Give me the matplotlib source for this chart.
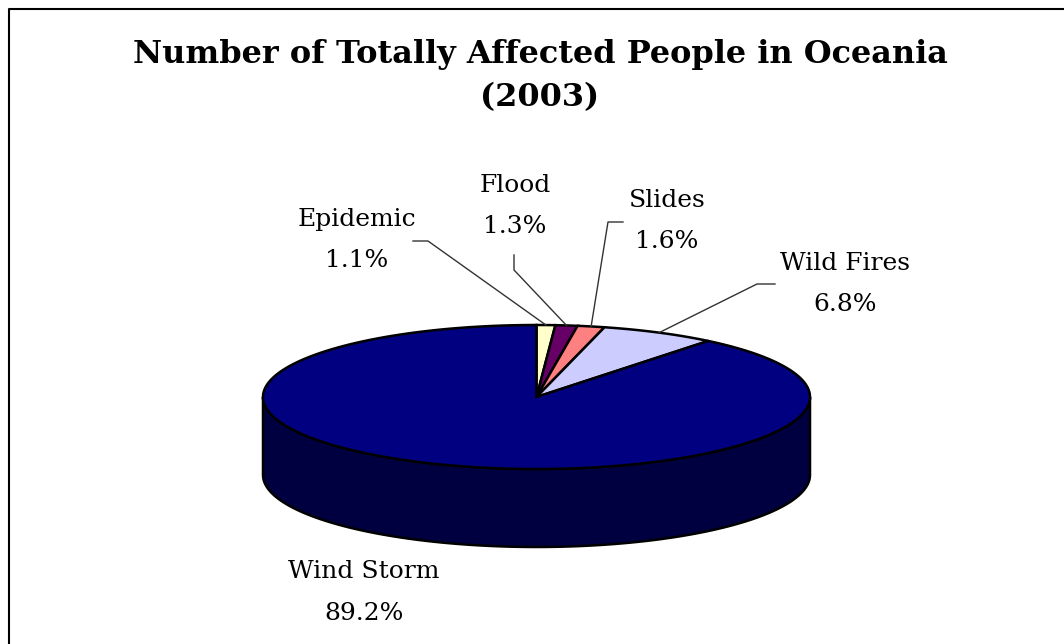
import numpy as np
import matplotlib
matplotlib.use("Agg")
import matplotlib.pyplot as plt
from matplotlib.patches import Polygon

# Data
categories = ["Epidemic", "Flood", "Slides", "Wild Fires", "Wind Storm"]
shares = [1.1, 1.3, 1.6, 6.8, 89.2]
colors = ["#ffffcc", "#660066", "#ff8080", "#ccccff", "#000080"]
side_colors = ["#80805f", "#330033", "#804040", "#66667f", "#000040"]

# Layout (pixel space)
CX, CY, RX, RY, DEPTH = 536.5, 397, 273.5, 72, 78
label_pos = [(357, 219), (515, 185), (667, 200), (845, 263), (364, 572)]
leader_start = [(413, 241, 428, 241), (514, 255, 514, 270), (623, 222, 608, 222),
                (775, 284, 757, 284), None]
FONT = "DejaVu Serif"

fig = plt.figure(figsize=(10.64, 6.44), dpi=100)
ax = fig.add_axes([0, 0, 1, 1])
ax.set_xlim(0, 1064)
ax.set_ylim(644, 0)
ax.axis("off")

def rim(t, dy=0):
    t = np.radians(t)
    return np.column_stack([CX + RX * np.cos(t), CY - RY * np.sin(t) + dy])

# slice angle ranges, clockwise from 12 o'clock
bounds = 90 - 3.6 * np.concatenate([[0], np.cumsum(shares)])

# sides (front half only: angles -180..0)
for i in range(len(shares)):
    hi, lo = bounds[i], bounds[i + 1]
    for off in (0, 360, -360):
        a0, a1 = max(lo + off, -180), min(hi + off, 0)
        if a1 > a0:
            t = np.linspace(a0, a1, 120)
            pts = np.vstack([rim(t), rim(t[::-1], DEPTH)])
            ax.add_patch(Polygon(pts, closed=True, fc=side_colors[i], ec="black", lw=1.8, zorder=1))

# top faces
for i in range(len(shares)):
    t = np.linspace(bounds[i], bounds[i + 1], max(8, int(abs(bounds[i] - bounds[i + 1]) * 2)))
    pts = np.vstack([[CX, CY], rim(t)])
    ax.add_patch(Polygon(pts, closed=True, fc=colors[i], ec="black", lw=1.8, zorder=2))

# labels and leader lines
for i, name in enumerate(categories):
    x, y = label_pos[i]
    ax.text(x, y, name, ha="center", va="center", fontsize=18, family=FONT)
    ax.text(x, y + 41, f"{shares[i]:.1f}%", ha="center", va="center", fontsize=18, family=FONT)
    if leader_start[i] is not None:
        x0, y0, x1, y1 = leader_start[i]
        mid = rim([(bounds[i] + bounds[i + 1]) / 2])[0]
        ax.plot([x0, x1, mid[0]], [y0, y1, mid[1]], color="#333333", lw=1, zorder=3)

ax.text(540, 54, "Number of Totally Affected People in Oceania", ha="center", va="center",
        fontsize=23, fontweight="bold", family=FONT)
ax.text(540, 98, "(2003)", ha="center", va="center",
        fontsize=23, fontweight="bold", family=FONT)

# chart area border (top and left visible)
ax.plot([9, 9, 1064], [644, 9, 9], color="black", lw=1.5)

fig.savefig("out.png", dpi=100)
